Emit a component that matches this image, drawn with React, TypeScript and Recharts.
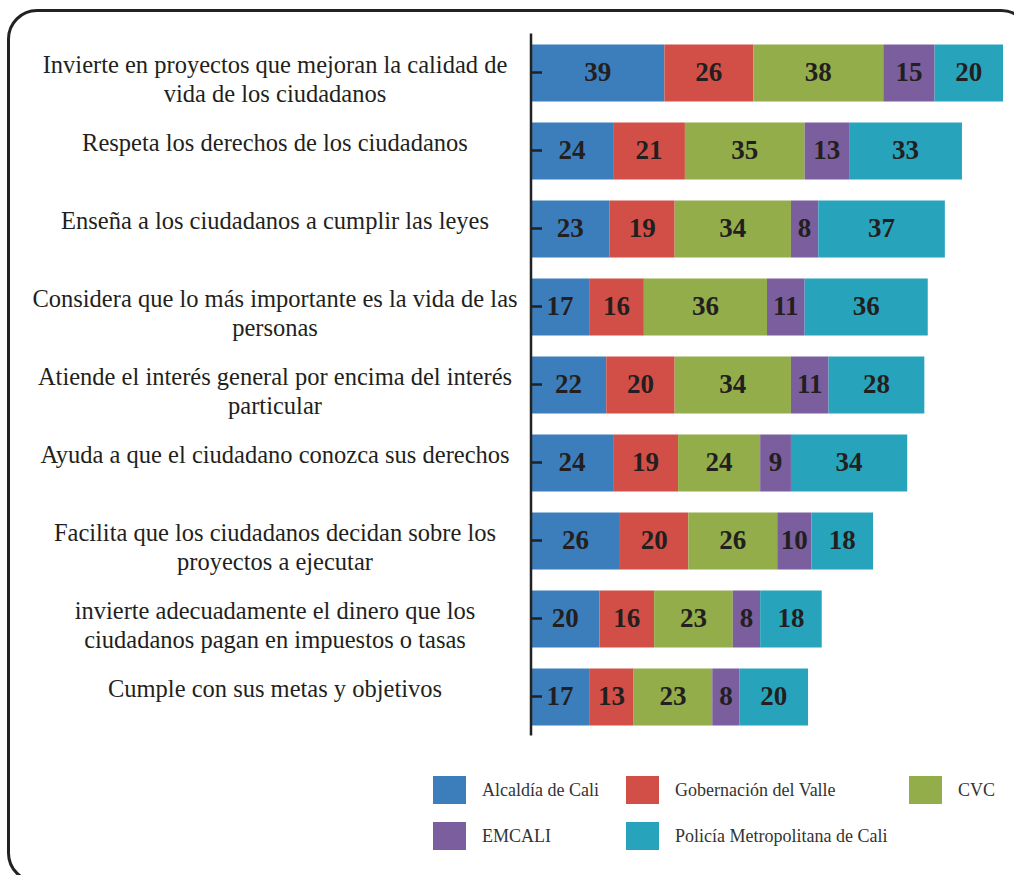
import React from "react";
import { BarChart, Bar, XAxis, YAxis, LabelList } from "recharts";

const categories = [
  "Invierte en proyectos que mejoran la calidad de\nvida de los ciudadanos",
  "Respeta los derechos de los ciudadanos",
  "Enseña a los ciudadanos a cumplir las leyes",
  "Considera que lo más importante es la vida de las\npersonas",
  "Atiende el interés general por encima del interés\nparticular",
  "Ayuda a que el ciudadano conozca sus derechos",
  "Facilita que los ciudadanos decidan sobre los\nproyectos a ejecutar",
  "invierte adecuadamente el dinero que los\nciudadanos pagan en impuestos o tasas",
  "Cumple con sus metas y objetivos",
];

const alcaldia = [39, 24, 23, 17, 22, 24, 26, 20, 17];
const gobernacion = [26, 21, 19, 16, 20, 19, 20, 16, 13];
const cvc = [38, 35, 34, 36, 34, 24, 26, 23, 23];
const emcali = [15, 13, 8, 11, 11, 9, 10, 8, 8];
const policia = [20, 33, 37, 36, 28, 34, 18, 18, 20];

const seriesNames = [
  "Alcaldía de Cali",
  "Gobernación del Valle",
  "CVC",
  "EMCALI",
  "Policía Metropolitana de Cali",
];
const seriesKeys = ["a", "g", "c", "e", "p"];
const seriesColors = ["#3c7ebb", "#d24f47", "#93ad4a", "#7a5e9d", "#27a4bc"];

const data = categories.map((cat, i) => ({
  cat,
  a: alcaldia[i],
  g: gobernacion[i],
  c: cvc[i],
  e: emcali[i],
  p: policia[i],
}));

const TEXT = "#231f20";
const SERIF = "'Liberation Serif', 'Times New Roman', serif";

const CategoryTick = (props: any) => {
  const { x, y, payload } = props;
  const lines = String(payload.value).split("\n");
  return (
    <g>
      <line x1={x} x2={x + 11} y1={y} y2={y} stroke="#222" strokeWidth={2.5} />
      <text
        x={x - 256}
        y={y}
        textAnchor="middle"
        style={{ fontFamily: SERIF, fontSize: 24.5, fill: TEXT }}
      >
        {lines.map((l, i) => (
          <tspan key={i} x={x - 256} dy={i === 0 ? 0 : 29}>
            {l}
          </tspan>
        ))}
      </text>
    </g>
  );
};

const legendPos = [
  { left: 433, top: 776 },
  { left: 626, top: 776 },
  { left: 909, top: 776 },
  { left: 433, top: 822 },
  { left: 626, top: 822 },
];

export default function App() {
  return (
    <div
      style={{
        position: "fixed",
        left: 0,
        top: 0,
        width: 1014,
        height: 875,
        overflow: "hidden",
        background: "#fff",
      }}
    >
      <div
        style={{
          position: "absolute",
          left: 7,
          top: 9,
          width: 1024,
          height: 874,
          border: "3px solid #222",
          borderRadius: 30,
          boxSizing: "border-box",
        }}
      />
      <div style={{ position: "absolute", left: 0, top: 0 }}>
        <BarChart
          layout="vertical"
          width={1014}
          height={760}
          data={data}
          margin={{ top: 33.5, right: 11, bottom: 24.5, left: 0 }}
        >
          <XAxis type="number" hide domain={[0, 138]} />
          <YAxis
            type="category"
            dataKey="cat"
            width={531}
            tickSize={0}
            tickMargin={0}
            axisLine={{ stroke: "#222", strokeWidth: 2.5 }}
            tickLine={false}
            tick={<CategoryTick />}
            interval={0}
          />
          {seriesKeys.map((k, i) => (
            <Bar
              key={k}
              dataKey={k}
              name={seriesNames[i]}
              stackId="s"
              fill={seriesColors[i]}
              barSize={57}
              isAnimationActive={false}
            >
              <LabelList
                dataKey={k}
                position="center"
                dy={-2}
                style={{
                  fill: TEXT,
                  fontSize: 27,
                  fontWeight: "bold",
                  fontFamily: SERIF,
                }}
              />
            </Bar>
          ))}
        </BarChart>
      </div>
      {seriesNames.map((n, i) => (
        <div
          key={n}
          style={{
            position: "absolute",
            left: legendPos[i].left,
            top: legendPos[i].top,
            display: "flex",
            alignItems: "center",
            height: 28,
            whiteSpace: "nowrap",
          }}
        >
          <div style={{ width: 33, height: 28, background: seriesColors[i] }} />
          <span
            style={{
              marginLeft: 16,
              fontFamily: SERIF,
              fontSize: 18,
              color: "#333",
              lineHeight: "28px",
            }}
          >
            {n}
          </span>
        </div>
      ))}
    </div>
  );
}
